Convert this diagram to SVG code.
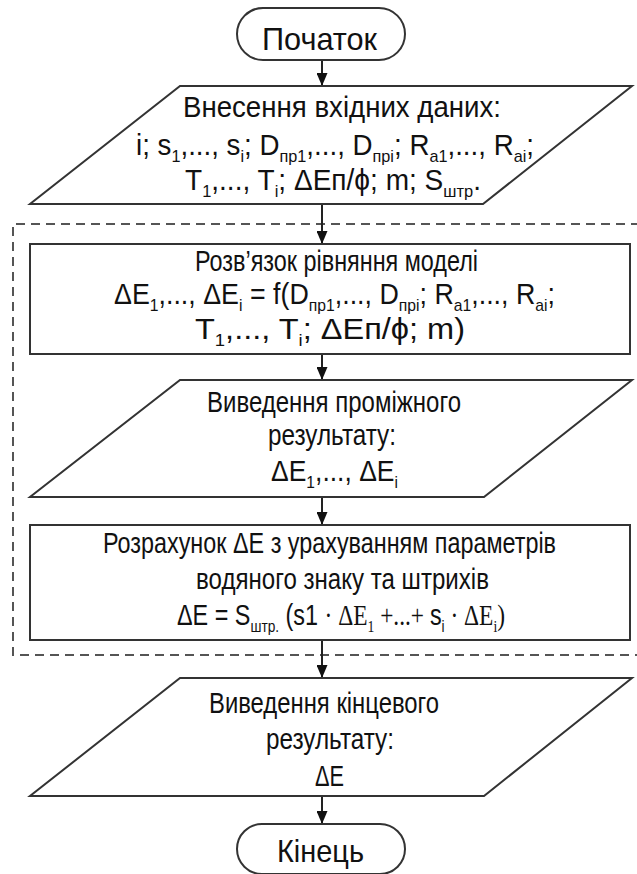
<svg xmlns="http://www.w3.org/2000/svg" width="637" height="874" viewBox="0 0 637 874">
<defs>
<marker id="arr" markerUnits="userSpaceOnUse" markerWidth="13" markerHeight="11" viewBox="0 0 13 11" refX="13" refY="5.5" orient="auto">
<path d="M0,0 L13,5.5 L0,11 Z" fill="#111"/>
</marker>
<style>
.shape{fill:#fff;stroke:#333;stroke-width:2}
.conn{fill:none;stroke:#222;stroke-width:2}
.dash{fill:none;stroke:#555;stroke-width:2;stroke-dasharray:9 6}
text{font-family:"Liberation Sans",Arial,sans-serif;fill:#111}
.t{font-size:29px}
.t3{font-size:30px}
.big{font-size:32px}
.sb{font-size:17px}
.serif{font-family:"Liberation Serif","Times New Roman",serif}
</style>
</defs>
<rect width="637" height="874" fill="#fff"/>

<g id="group-dashed">
<path class="dash" d="M640,224 H13 V655 H640"/>
</g>

<g id="connectors">
<line class="conn" x1="322" y1="60" x2="322" y2="86" marker-end="url(#arr)"/>
<line class="conn" x1="322" y1="204" x2="322" y2="244" marker-end="url(#arr)"/>
<line class="conn" x1="322" y1="354" x2="322" y2="380" marker-end="url(#arr)"/>
<line class="conn" x1="322" y1="497" x2="322" y2="525" marker-end="url(#arr)"/>
<line class="conn" x1="322" y1="640" x2="322" y2="678" marker-end="url(#arr)"/>
<line class="conn" x1="322" y1="796" x2="322" y2="824" marker-end="url(#arr)"/>
</g>

<g id="start">
<rect class="shape" x="237" y="8" width="168" height="52" rx="26"/>
<text class="big" x="262" y="50" textLength="115" lengthAdjust="spacingAndGlyphs">Початок</text>
</g>

<g id="input">
<polygon class="shape" points="180,86 632,86 483,204 30,204"/>
<text class="t" x="183" y="117" textLength="318" lengthAdjust="spacingAndGlyphs">Внесення вхідних даних:</text>
<text class="t" x="136" y="155" textLength="398" lengthAdjust="spacingAndGlyphs">i; s<tspan class="sb" dy="7">1</tspan><tspan dy="-7">,..., s</tspan><tspan class="sb" dy="7">i</tspan><tspan dy="-7">; D</tspan><tspan class="sb" dy="7">пр1</tspan><tspan dy="-7">,..., D</tspan><tspan class="sb" dy="7">прі</tspan><tspan dy="-7">; R</tspan><tspan class="sb" dy="7">а1</tspan><tspan dy="-7">,..., R</tspan><tspan class="sb" dy="7">аі</tspan><tspan dy="-7">;</tspan></text>
<text class="t" x="185" y="190" textLength="296" lengthAdjust="spacingAndGlyphs">T<tspan class="sb" dy="7">1</tspan><tspan dy="-7">,..., T</tspan><tspan class="sb" dy="7">i</tspan><tspan dy="-7">; ΔEп/ϕ; m; S</tspan><tspan class="sb" dy="7">штр</tspan><tspan dy="-7">.</tspan></text>
</g>

<g id="solve">
<rect class="shape" x="30" y="244" width="600" height="110"/>
<text class="t" x="195" y="271" textLength="283" lengthAdjust="spacingAndGlyphs">Розв’язок рівняння моделі</text>
<text class="t" x="114" y="304" textLength="441" lengthAdjust="spacingAndGlyphs">ΔE<tspan class="sb" dy="7">1</tspan><tspan dy="-7">,..., ΔE</tspan><tspan class="sb" dy="7">i</tspan><tspan dy="-7"> = f(D</tspan><tspan class="sb" dy="7">пр1</tspan><tspan dy="-7">,..., D</tspan><tspan class="sb" dy="7">прі</tspan><tspan dy="-7">; R</tspan><tspan class="sb" dy="7">а1</tspan><tspan dy="-7">,..., R</tspan><tspan class="sb" dy="7">аі</tspan><tspan dy="-7">;</tspan></text>
<text class="t3" x="195" y="339" textLength="270" lengthAdjust="spacingAndGlyphs">T<tspan class="sb" dy="7">1</tspan><tspan dy="-7">,..., T</tspan><tspan class="sb" dy="7">i</tspan><tspan dy="-7">; ΔEп/ϕ; m)</tspan></text>
</g>

<g id="intermediate">
<polygon class="shape" points="180,380 632,380 484,497 30,497"/>
<text class="t" x="207" y="412" textLength="254" lengthAdjust="spacingAndGlyphs">Виведення проміжного</text>
<text class="t" x="268" y="445" textLength="128" lengthAdjust="spacingAndGlyphs">результату:</text>
<text class="t" x="271" y="481" textLength="127" lengthAdjust="spacingAndGlyphs">ΔE<tspan class="sb" dy="7">1</tspan><tspan dy="-7">,..., ΔE</tspan><tspan class="sb" dy="7">i</tspan></text>
</g>

<g id="calc">
<rect class="shape" x="30" y="525" width="600" height="115"/>
<text class="t" x="103" y="553" textLength="453" lengthAdjust="spacingAndGlyphs">Розрахунок ΔE з урахуванням параметрів</text>
<text class="t" x="196" y="589" textLength="293" lengthAdjust="spacingAndGlyphs">водяного знаку та штрихів</text>
<text class="t" x="177" y="625" textLength="328" lengthAdjust="spacingAndGlyphs">ΔE = S<tspan class="sb" dy="7">штр.</tspan><tspan dy="-7"> (s1 </tspan><tspan class="serif">· ΔE</tspan><tspan class="sb serif" dy="7">1</tspan><tspan class="serif" dy="-7"> +...+ </tspan><tspan>s</tspan><tspan class="sb" dy="7">i</tspan><tspan class="serif" dy="-7"> · ΔE</tspan><tspan class="sb serif" dy="7">i</tspan><tspan class="serif" dy="-7">)</tspan></text>
</g>

<g id="final">
<polygon class="shape" points="180,678 632,678 484,796 30,796"/>
<text class="t" x="209" y="713" textLength="230" lengthAdjust="spacingAndGlyphs">Виведення кінцевого</text>
<text class="t" x="266" y="749" textLength="128" lengthAdjust="spacingAndGlyphs">результату:</text>
<text class="t" x="315" y="786" textLength="29" lengthAdjust="spacingAndGlyphs">ΔE</text>
</g>

<g id="end">
<rect class="shape" x="237" y="824" width="168" height="50" rx="25"/>
<text class="big" x="277" y="862" textLength="87" lengthAdjust="spacingAndGlyphs">Кінець</text>
</g>
</svg>
